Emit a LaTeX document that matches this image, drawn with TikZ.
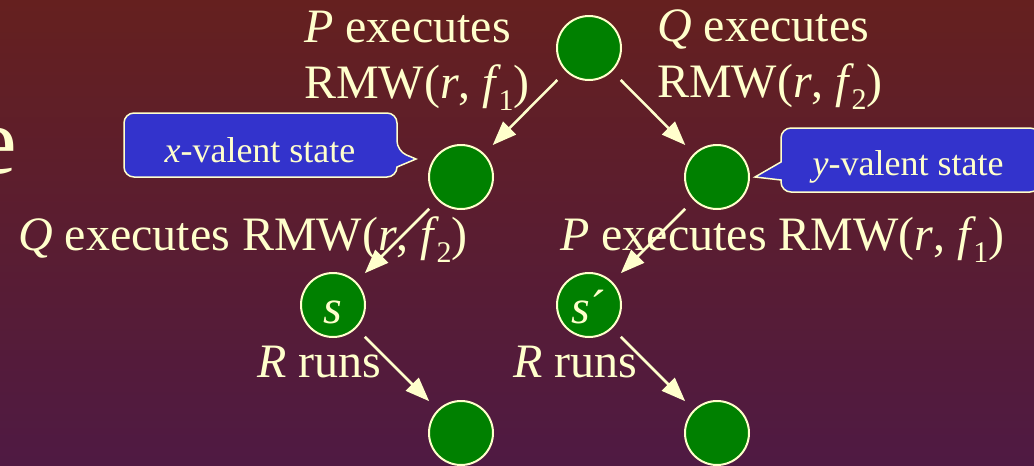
\documentclass[tikz,border=0pt]{standalone}
\usepackage{fontspec}
\setmainfont{Liberation Serif}
\usetikzlibrary{arrows.meta}
\definecolor{bgtop}{RGB}{101,32,31}
\definecolor{bgbot}{RGB}{79,26,67}
\definecolor{cream}{RGB}{255,255,204}
\definecolor{stategreen}{RGB}{0,128,0}
\definecolor{noteblue}{RGB}{51,51,204}
\newcommand{\idx}[1]{\kern-3pt\raisebox{-12pt}{\fontsize{30}{30}\selectfont #1}}

\begin{document}
\begin{tikzpicture}[x=1pt, y=-1pt,
  state/.style={circle, draw=cream, line width=2pt, fill=stategreen, minimum size=64pt,
    inner sep=0pt, text=cream, font=\fontsize{48}{48}\selectfont},
  move/.style={draw=cream, line width=2.5pt, -{Triangle[length=24pt, width=18pt]},
    shorten <=12pt, shorten >=12pt},
  lbl/.style={text=cream, inner sep=0pt, font=\fontsize{48}{56}\selectfont},
  note/.style={draw=cream, line width=1.5pt, fill=noteblue},
  notetext/.style={text=cream, inner sep=0pt, font=\fontsize{36}{36}\selectfont}]
\def\W{1034}
\def\H{466}

\useasboundingbox (0,0) rectangle (\W,\H);
\clip (0,0) rectangle (\W,\H);
\shade[top color=bgtop, bottom color=bgbot] (0,0) rectangle (\W,\H);

\node[lbl, font=\fontsize{96}{96}\selectfont, anchor=base east] (frag) at (17,173) {e};

\draw[note, rounded corners=10pt] (260,113) -- (397,113) -- (397,151) [sharp corners]
  -- (416,159) -- (397,167) [rounded corners=10pt] -- (397,177) -- (124,177) -- (124,113) -- cycle;
\node[notetext, anchor=base] (xnote) at (260,162) {\textit{x}-valent state};

\draw[note, rounded corners=10pt] (910,128) -- (1040,128) -- (1040,192) -- (781,192)
  [sharp corners] -- (781,180) -- (755,177) -- (781,162) [rounded corners=10pt] -- (781,128) -- cycle;
\node[notetext, anchor=base] (ynote) at (908,175) {\textit{y}-valent state};

\node[state] (root) at (589,48) {};
\node[state] (xst) at (461,177) {};
\node[state] (yst) at (717,177) {};
\node[state, text height=36pt, text depth=0pt] (s) at (333,305) {\textit{s}};
\node[state, text height=36pt, text depth=0pt] (sp) at (589,305) {\textit{s}\textasciiacute};
\node[state] (xend) at (461,433) {};
\node[state] (yend) at (717,433) {};

\node[lbl, anchor=north west, align=left] (pmove) at (304,10.6) {\textit{P} executes\\RMW(\textit{r}, \textit{f}\idx{1})};
\node[lbl, anchor=north west, align=left] (qmove) at (657,10) {\textit{Q} executes\\RMW(\textit{r}, \textit{f}\idx{2})};
\node[lbl, anchor=base west] (qmove2) at (18,250) {\textit{Q} executes RMW(\textit{r}, \textit{f}\idx{2})};
\node[lbl, anchor=base west] (pmove2) at (560,250) {\textit{P} executes RMW(\textit{r}, \textit{f}\idx{1})};
\node[lbl, anchor=base west] (rrun) at (257,377) {\textit{R} runs};
\node[lbl, anchor=base west] (rrun2) at (513,377) {\textit{R} runs};

\draw[move] (root) -- (xst);
\draw[move] (root) -- (yst);
\draw[move] (xst) -- (s);
\draw[move] (yst) -- (sp);
\draw[move] (s) -- (xend);
\draw[move] (sp) -- (yend);
\end{tikzpicture}
\end{document}
